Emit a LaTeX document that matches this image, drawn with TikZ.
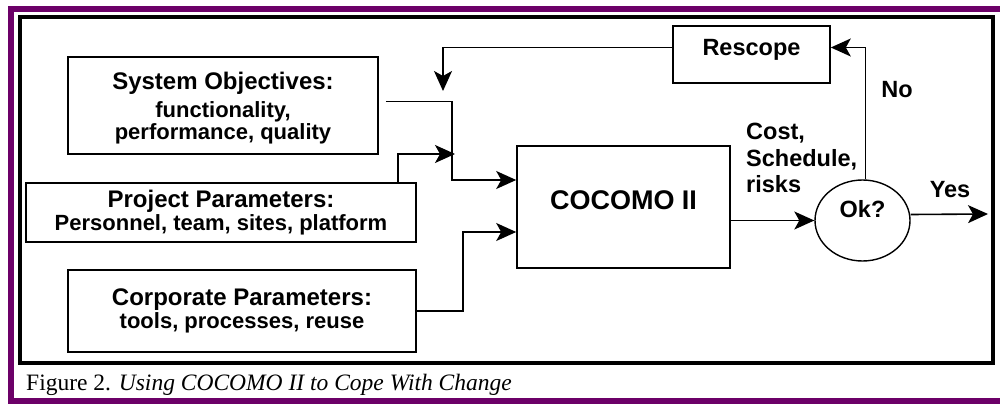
\documentclass[tikz,border=0pt]{standalone}
\usepackage{fontspec}
\setmainfont{Liberation Serif}
\setsansfont{Liberation Sans}
\usetikzlibrary{arrows.meta,shapes.geometric}
\definecolor{framepurple}{RGB}{108,0,104}
\newcommand{\hdfont}{\fontsize{24}{25}\selectfont}
\newcommand{\bdfont}{\fontsize{22}{24.5}\selectfont}
\begin{document}
\begin{tikzpicture}[x=1pt,y=-1pt,
  box/.style={draw,line width=1.6pt,inner sep=0pt,align=center,
    font=\sffamily\bfseries\bdfont},
  boxtext/.style={inner sep=0pt,align=center,font=\sffamily\bfseries\bdfont},
  lbl/.style={font=\sffamily\bfseries\fontsize{23.5}{26.5}\selectfont,inner sep=0pt},
  arr/.style={line width=1.6pt,-{Stealth[length=20pt,width=18pt,inset=5pt]}}]
\useasboundingbox (0,0) rectangle (1000,406);
% outer frames
\draw[framepurple,line width=6pt] (11,9) rectangle (1008,401);
\draw[line width=3.5pt] (20,17) rectangle (993,363);
% input boxes
\node[box,minimum width=310pt,minimum height=97pt] (so) at (223,105.5) {};
\node[boxtext] (so-text) at ([yshift=-2.5pt]so.center)
  {{\hdfont System Objectives:}\\[3pt]functionality,\\[-2.5pt]performance, quality};
\node[box,minimum width=390pt,minimum height=59pt] (pp) at (221,212.5)
  {{\hdfont Project Parameters:}\\[-1pt]Personnel, team, sites, platform};
\node[box,minimum width=348pt,minimum height=82pt] (cp) at (242,311)
  {{\hdfont Corporate Parameters:}\\[-1pt]tools, processes, reuse};
% model, decision and feedback
\node[box,minimum width=213pt,minimum height=122pt,
  font=\sffamily\bfseries\fontsize{27}{30}\selectfont] (cc) at (623.5,207)
  {\raisebox{-2pt}[0pt][0pt]{COCOMO II}};
\node[box,minimum width=157pt,minimum height=57pt,
  font=\sffamily\bfseries\fontsize{23.5}{26}\selectfont] (rs) at (751.5,54.5)
  {\raisebox{-1.5pt}[0pt][0pt]{Rescope}};
\node[draw,ellipse,line width=1.4pt,minimum width=95pt,minimum height=81pt,inner sep=0pt,
  font=\sffamily\bfseries\fontsize{23.5}{26}\selectfont] (ok) at (862.5,220.5)
  {\raisebox{3.5pt}[0pt][0pt]{Ok?}};
% labels
\node[lbl,anchor=west,align=left] (csr) at (746,158) {Cost,\\Schedule,\\risks};
\node[lbl] (no) at (897,90) {No};
\node[lbl] (yes) at (950,190) {Yes};
% connector points
\coordinate (m1) at (452,180);
\coordinate (j2) at (455,154);
\coordinate (m3) at (463,232);
\coordinate (fb) at (443,91);
\coordinate (yesend) at (988,214);
% connectors
\draw[arr] ([xshift=7pt,yshift=4pt]so.east) -| (m1) -- (m1 -| cc.west);
\draw[arr] ([xshift=177pt]pp.north) |- (j2);
\draw[arr] ([xshift=-2pt]cp.east) -| (m3) -- (m3 -| cc.west);
\draw[arr] (cc.east |- ok.west) -- (ok.west);
\draw[arr] ([xshift=3pt]ok.north) |- ([yshift=7pt]rs.east);
\draw[arr] ([yshift=6pt]ok.east) -- (yesend);
\draw[arr] ([yshift=7pt]rs.west) -| (fb);
% caption
\node[anchor=base west,inner sep=0pt,font=\fontsize{23.5}{25}\selectfont] (cap) at (26,390)
  {Figure 2. \textit{Using COCOMO II to Cope With Change}};
\end{tikzpicture}
\end{document}
